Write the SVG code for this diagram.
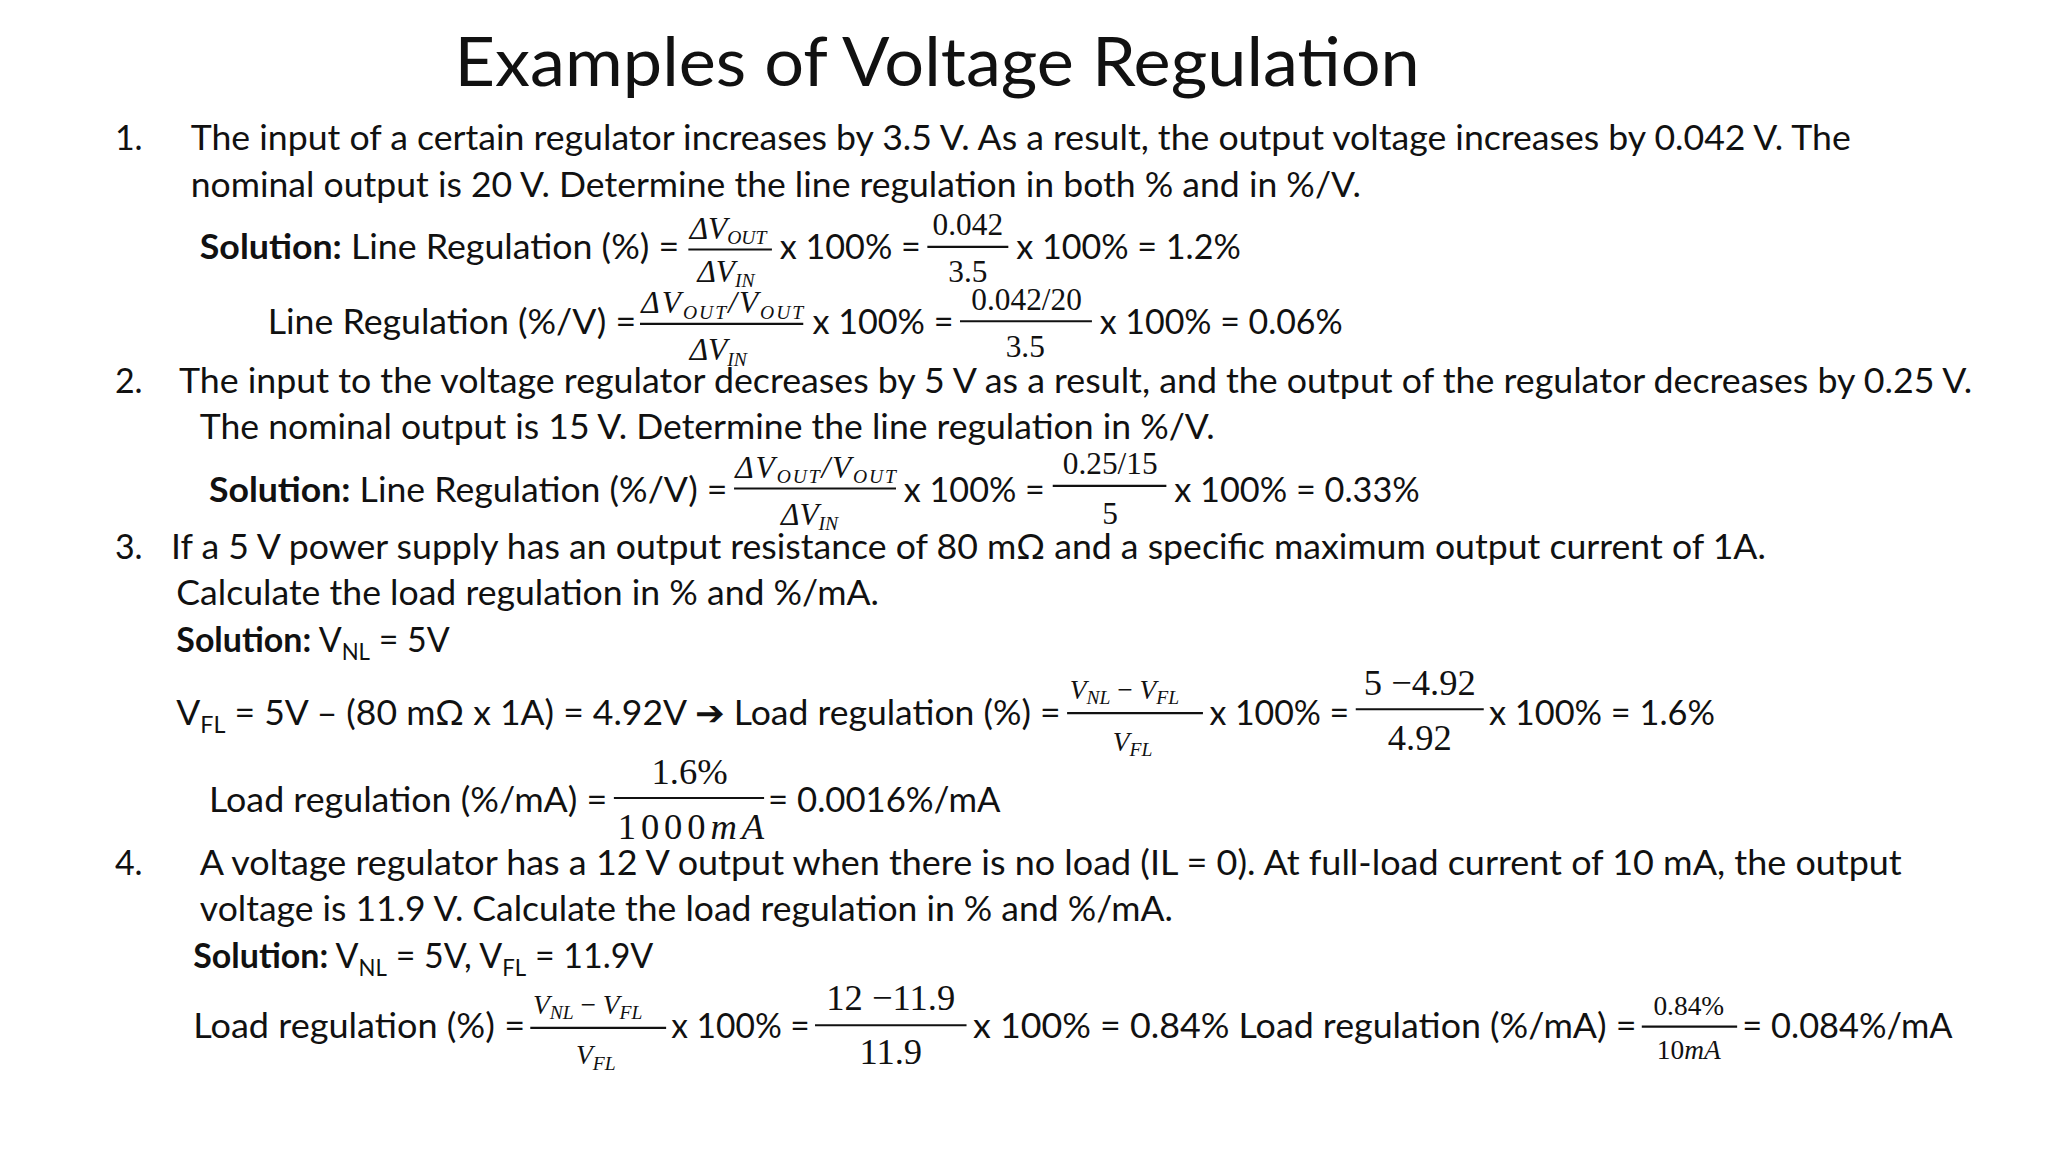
<svg xmlns="http://www.w3.org/2000/svg" width="2048" height="1152" viewBox="0 0 2048 1152">
<style>
.t{font-family:Lato,"Liberation Sans",sans-serif;font-size:26px;fill:#111}
.b{font-weight:bold}
.h{font-family:Lato,"Liberation Sans",sans-serif;font-size:52px;fill:#111}
.m{font-family:"Liberation Serif",serif;font-size:24px;fill:#111}
.big{font-size:28px}
.sm{font-size:21px}
.i{font-style:italic}
.s{font-size:15px}
.sub{font-size:17px}
.bar{stroke:#111;stroke-width:1.6}
</style>
<rect width="2048" height="1152" fill="#fff"/>
<g transform="scale(1.30612)">
<text class="h" x="348" y="66" textLength="739" lengthAdjust="spacingAndGlyphs">Examples of Voltage Regulation</text>

<text class="t" x="88" y="115">1.</text>
<text class="t" x="146" y="115" textLength="1271" lengthAdjust="spacingAndGlyphs">The input of a certain regulator increases by 3.5 V. As a result, the output voltage increases by 0.042 V. The</text>
<text class="t" x="146" y="151" textLength="896" lengthAdjust="spacingAndGlyphs">nominal output is 20 V. Determine the line regulation in both % and in %/V.</text>

<text class="t" x="153" y="198" textLength="367" lengthAdjust="spacingAndGlyphs"><tspan class="b">Solution:</tspan> Line Regulation (%) =</text>
<text class="m i" x="528" y="183">ΔV<tspan class="s" dy="4">OUT</tspan></text>
<line class="bar" x1="527" y1="191" x2="591" y2="191"/>
<text class="m i" x="534" y="216">ΔV<tspan class="s" dy="4">IN</tspan></text>
<text class="t" x="597" y="198" textLength="108" lengthAdjust="spacingAndGlyphs">x 100% =</text>
<text class="m" x="741" y="180" text-anchor="middle">0.042</text>
<line class="bar" x1="710" y1="189" x2="772" y2="189"/>
<text class="m" x="741" y="216" text-anchor="middle">3.5</text>
<text class="t" x="778" y="198" textLength="172" lengthAdjust="spacingAndGlyphs">x 100% = 1.2%</text>

<text class="t" x="205" y="256" textLength="282" lengthAdjust="spacingAndGlyphs">Line Regulation (%/V) =</text>
<text class="m i" x="491" y="240" textLength="124" lengthAdjust="spacing">ΔV<tspan class="s" dy="4">OUT</tspan><tspan dy="-4">/V</tspan><tspan class="s" dy="4">OUT</tspan></text>
<line class="bar" x1="490" y1="248" x2="615" y2="248"/>
<text class="m i" x="528" y="276">ΔV<tspan class="s" dy="4">IN</tspan></text>
<text class="t" x="622" y="256" textLength="108" lengthAdjust="spacingAndGlyphs">x 100% =</text>
<text class="m" x="786" y="237" text-anchor="middle">0.042/20</text>
<line class="bar" x1="735" y1="246" x2="836" y2="246"/>
<text class="m" x="785" y="273" text-anchor="middle">3.5</text>
<text class="t" x="842" y="256" textLength="186" lengthAdjust="spacingAndGlyphs">x 100% = 0.06%</text>

<text class="t" x="88" y="301">2.</text>
<text class="t" x="137" y="301" textLength="1373" lengthAdjust="spacingAndGlyphs">The input to the voltage regulator decreases by 5 V as a result, and the output of the regulator decreases by 0.25 V.</text>
<text class="t" x="153" y="336" textLength="777" lengthAdjust="spacingAndGlyphs">The nominal output is 15 V. Determine the line regulation in %/V.</text>

<text class="t" x="160" y="384" textLength="397" lengthAdjust="spacingAndGlyphs"><tspan class="b">Solution:</tspan> Line Regulation (%/V) =</text>
<text class="m i" x="563" y="366" textLength="123" lengthAdjust="spacing">ΔV<tspan class="s" dy="4">OUT</tspan><tspan dy="-4">/V</tspan><tspan class="s" dy="4">OUT</tspan></text>
<line class="bar" x1="562" y1="374" x2="686" y2="374"/>
<text class="m i" x="598" y="402">ΔV<tspan class="s" dy="4">IN</tspan></text>
<text class="t" x="692" y="384" textLength="108" lengthAdjust="spacingAndGlyphs">x 100% =</text>
<text class="m" x="850" y="363" text-anchor="middle">0.25/15</text>
<line class="bar" x1="806" y1="372" x2="893" y2="372"/>
<text class="m" x="850" y="401" text-anchor="middle">5</text>
<text class="t" x="899" y="384" textLength="188" lengthAdjust="spacingAndGlyphs">x 100% = 0.33%</text>

<text class="t" x="88" y="428">3.</text>
<text class="t" x="131" y="428" textLength="1221" lengthAdjust="spacingAndGlyphs">If a 5 V power supply has an output resistance of 80 mΩ and a specific maximum output current of 1A.</text>
<text class="t" x="135" y="463" textLength="538" lengthAdjust="spacingAndGlyphs">Calculate the load regulation in % and %/mA.</text>
<text class="t" x="135" y="499"><tspan class="b">Solution:</tspan> V<tspan class="sub" dy="6">NL</tspan><tspan dy="-6"> = 5V</tspan></text>

<text class="t" x="135" y="555" textLength="677" lengthAdjust="spacingAndGlyphs">V<tspan class="sub" dy="6">FL</tspan><tspan dy="-6"> = 5V – (80 mΩ x 1A) = 4.92V </tspan><tspan font-family="DejaVu Sans" font-weight="bold">➔</tspan> Load regulation (%) =</text>
<text class="m i sm" x="819" y="535">V<tspan class="s" dy="4">NL</tspan><tspan dy="-4" font-style="normal"> − </tspan>V<tspan class="s" dy="4">FL</tspan></text>
<line class="bar" x1="817" y1="546" x2="921" y2="546"/>
<text class="m i sm" x="852" y="575">V<tspan class="s" dy="4">FL</tspan></text>
<text class="t" x="926" y="555" textLength="107" lengthAdjust="spacingAndGlyphs">x 100% =</text>
<text class="m big" x="1087" y="532" text-anchor="middle">5 −4.92</text>
<line class="bar" x1="1038" y1="543" x2="1136" y2="543"/>
<text class="m big" x="1087" y="574" text-anchor="middle">4.92</text>
<text class="t" x="1140" y="555" textLength="173" lengthAdjust="spacingAndGlyphs">x 100% = 1.6%</text>

<text class="t" x="160" y="622" textLength="305" lengthAdjust="spacingAndGlyphs">Load regulation (%/mA) =</text>
<text class="m big" x="528" y="600" text-anchor="middle">1.6%</text>
<line class="bar" x1="470" y1="611" x2="585" y2="611"/>
<text class="m big" x="473" y="642" textLength="112" lengthAdjust="spacing">1000<tspan font-style="italic">mA</tspan></text>
<text class="t" x="588" y="622" textLength="178" lengthAdjust="spacingAndGlyphs">= 0.0016%/mA</text>

<text class="t" x="88" y="670">4.</text>
<text class="t" x="153" y="670" textLength="1303" lengthAdjust="spacingAndGlyphs">A voltage regulator has a 12 V output when there is no load (IL = 0).  At full-load current of 10 mA, the output</text>
<text class="t" x="153" y="705" textLength="745" lengthAdjust="spacingAndGlyphs">voltage is 11.9 V. Calculate the load regulation in % and %/mA.</text>
<text class="t" x="148" y="741"><tspan class="b">Solution:</tspan> V<tspan class="sub" dy="6">NL</tspan><tspan dy="-6"> = 5V, V</tspan><tspan class="sub" dy="6">FL</tspan><tspan dy="-6"> = 11.9V</tspan></text>

<text class="t" x="148" y="795" textLength="254" lengthAdjust="spacingAndGlyphs">Load regulation (%) =</text>
<text class="m i sm" x="408" y="776">V<tspan class="s" dy="4">NL</tspan><tspan dy="-4" font-style="normal"> − </tspan>V<tspan class="s" dy="4">FL</tspan></text>
<line class="bar" x1="406" y1="787" x2="510" y2="787"/>
<text class="m i sm" x="441" y="815">V<tspan class="s" dy="4">FL</tspan></text>
<text class="t" x="514" y="795" textLength="106" lengthAdjust="spacingAndGlyphs">x 100% =</text>
<text class="m big" x="682" y="773" text-anchor="middle">12 −11.9</text>
<line class="bar" x1="624" y1="785" x2="740" y2="785"/>
<text class="m big" x="682" y="815" text-anchor="middle">11.9</text>
<text class="t" x="745" y="795" textLength="508" lengthAdjust="spacingAndGlyphs">x 100% = 0.84%  Load regulation (%/mA) =</text>
<text class="m sm" x="1293" y="777" text-anchor="middle">0.84%</text>
<line class="bar" x1="1257" y1="786" x2="1330" y2="786"/>
<text class="m sm" x="1293" y="811" text-anchor="middle">10<tspan font-style="italic">mA</tspan></text>
<text class="t" x="1334" y="795" textLength="161" lengthAdjust="spacingAndGlyphs">= 0.084%/mA</text>
</g>
</svg>
